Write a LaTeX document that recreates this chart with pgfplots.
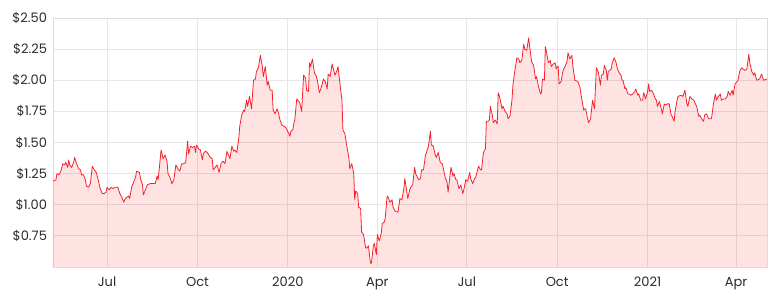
\documentclass[border=0pt]{standalone}
\usepackage{pgfplots}
\pgfplotsset{compat=1.18}
\usepackage{pgfplotstable}
\usepackage{fontspec}
\setmainfont{Poppins}
\definecolor{linered}{HTML}{F5222D}
\definecolor{gridgray}{HTML}{E6E6E6}
\definecolor{framegray}{HTML}{DCDCDC}
\definecolor{labelgray}{HTML}{2B2B2B}
\pgfplotstableread{
d v
126 1.19
129 1.20
130 1.25
132 1.24
134 1.27
136 1.33
138 1.32
139 1.34
141 1.30
142 1.36
143 1.32
145 1.30
147 1.34
148 1.38
150 1.33
152 1.29
154 1.28
155 1.24
157 1.24
159 1.20
160 1.15
162 1.14
164 1.17
166 1.31
168 1.28
170 1.26
172 1.20
174 1.13
176 1.09
178 1.09
180 1.10
181 1.14
183 1.12
185 1.14
187 1.13
189 1.14
192 1.14
194 1.09
196 1.06
198 1.02
199 1.04
201 1.06
203 1.07
204 1.05
206 1.14
208 1.18
210 1.22
211 1.27
214 1.26
215 1.21
217 1.16
218 1.08
220 1.12
222 1.16
225 1.17
230 1.17
232 1.23
233 1.20
236 1.44
238 1.37
240 1.40
242 1.35
243 1.25
245 1.22
247 1.17
249 1.20
251 1.32
253 1.29
255 1.27
257 1.33
259 1.33
261 1.34
263 1.51
264 1.41
266 1.47
268 1.46
270 1.47
271 1.42
272 1.48
274 1.45
276 1.44
278 1.36
279 1.41
281 1.43
283 1.42
286 1.38
288 1.37
289 1.28
291 1.30
293 1.32
295 1.26
297 1.33
299 1.35
301 1.33
303 1.43
306 1.37
308 1.47
310 1.43
311 1.44
313 1.42
315 1.53
316 1.63
318 1.72
320 1.76
321 1.75
323 1.84
324 1.79
326 1.87
328 1.77
330 2.00
332 2.01
333 2.07
335 2.10
337 2.20
339 2.11
340 2.03
342 2.11
344 1.96
345 1.99
347 1.92
349 1.92
350 1.76
352 1.73
354 1.77
355 1.75
357 1.68
359 1.64
361 1.63
363 1.62
366 1.57
367 1.55
368 1.59
370 1.60
371 1.65
372 1.68
374 1.85
376 1.83
377 1.82
379 1.75
381 2.04
383 2.02
384 1.92
386 1.91
387 2.14
388 2.11
390 2.17
392 2.06
394 2.03
395 2.00
397 1.90
398 1.92
400 1.97
401 2.01
403 1.99
405 1.93
406 2.05
408 2.03
410 2.13
411 2.10
413 2.04
415 2.08
416 2.11
418 1.97
420 1.84
421 1.60
423 1.57
425 1.47
427 1.38
428 1.29
430 1.33
432 1.25
433 1.04
434 1.11
436 1.09
437 0.98
439 0.97
440 0.78
442 0.76
444 0.66
445 0.65
447 0.67
449 0.53
450 0.53
452 0.67
453 0.69
455 0.60
456 0.76
458 0.71
460 0.77
461 0.85
463 0.86
464 0.89
466 1.07
467 1.06
469 1.02
471 1.04
472 0.98
474 0.95
477 0.94
479 1.05
481 1.04
483 1.13
484 1.21
487 1.05
489 1.12
490 1.14
492 1.16
494 1.30
495 1.25
498 1.20
500 1.21
501 1.28
503 1.28
505 1.40
506 1.42
508 1.47
510 1.59
511 1.48
513 1.47
515 1.40
516 1.38
518 1.42
520 1.34
522 1.33
523 1.30
525 1.22
527 1.18
528 1.10
530 1.24
531 1.30
533 1.23
534 1.25
536 1.20
537 1.20
539 1.13
541 1.16
543 1.09
544 1.12
546 1.20
548 1.19
550 1.26
551 1.21
553 1.17
555 1.21
556 1.22
559 1.31
561 1.28
562 1.28
564 1.42
566 1.45
567 1.67
569 1.67
570 1.68
571 1.79
573 1.72
574 1.66
576 1.68
578 1.65
579 1.90
580 1.88
583 1.77
584 1.79
586 1.75
588 1.73
589 1.69
591 1.71
593 1.84
594 1.96
596 2.08
598 2.18
600 2.17
601 2.14
603 2.16
605 2.29
606 2.25
608 2.24
610 2.34
611 2.27
613 2.15
615 2.12
617 2.01
618 2.03
620 1.95
622 1.89
623 1.90
624 2.01
626 2.00
627 2.27
629 2.19
630 2.14
632 2.16
633 2.11
635 2.13
637 2.14
638 2.09
639 2.11
640 2.11
641 1.97
643 1.99
645 2.08
647 2.11
649 2.15
650 2.22
652 2.17
654 2.20
655 2.11
657 2.00
660 1.99
662 1.95
664 1.85
666 1.76
667 1.77
668 1.77
670 1.69
671 1.66
673 1.69
675 1.84
677 1.77
678 1.95
679 2.10
681 2.06
683 1.96
684 2.04
686 2.05
687 2.12
689 2.08
690 2.00
691 2.07
694 2.09
695 2.14
697 2.18
699 2.14
700 2.10
702 2.06
704 2.04
705 2.00
706 2.00
708 1.93
709 1.94
711 1.89
712 1.89
714 1.88
716 1.89
718 1.91
719 1.93
721 1.88
722 1.89
724 1.84
726 1.84
727 1.90
729 1.85
731 1.91
732 1.97
733 1.91
735 1.92
737 1.89
739 1.85
740 1.84
741 1.79
743 1.83
745 1.77
746 1.73
748 1.81
749 1.80
751 1.81
753 1.81
755 1.72
756 1.71
758 1.67
759 1.75
761 1.84
762 1.87
765 1.88
767 1.87
769 1.92
771 1.81
772 1.79
774 1.87
776 1.85
778 1.84
779 1.82
781 1.79
783 1.71
784 1.72
786 1.69
788 1.67
789 1.72
791 1.73
793 1.69
796 1.69
798 1.81
800 1.89
801 1.84
803 1.87
805 1.89
806 1.84
808 1.85
810 1.85
812 1.87
813 1.91
815 1.88
817 1.92
818 1.88
820 1.97
822 1.99
823 2.00
825 2.08
827 2.10
828 2.09
830 2.08
832 2.09
834 2.21
835 2.14
837 2.07
839 2.04
840 2.06
842 2.00
845 2.01
847 2.05
849 2.00
852.5 2.01
}\pricedata
\begin{document}
\begin{tikzpicture}
\path[use as bounding box] (-39.75pt,-26.25pt) rectangle (539.25pt,200.25pt);
\begin{axis}[
  at={(0,0)}, anchor=south west,
  scale only axis,
  width=535.5pt, height=186.75pt,
  xmin=126, xmax=852.5,
  ymin=0.5, ymax=2.5,
  xtick={181,273,365,456,547,639,731,821},
  xticklabels={Jul,Oct,2020,Apr,Jul,Oct,2021,Apr},
  ytick={0.75,1,1.25,1.5,1.75,2,2.25,2.5},
  yticklabel={\$\pgfmathprintnumber[fixed,fixed zerofill,precision=2]{\tick}},
  /pgf/number format/assume math mode=true,
  major tick length=0pt,
  grid=major,
  major grid style={draw=gridgray, line width=0.6pt},
  axis line style={draw=framegray, line width=0.7pt},
  tick label style={font=\fontsize{9.75}{11}\selectfont, text=labelgray},
  yticklabel style={xshift=-1pt},
  xticklabel style={yshift=-4pt},
  clip=true,
]
\addplot[draw=none, fill=red, fill opacity=0.11] table[x=d, y=v] {\pricedata} \closedcycle;
\addplot[draw=linered, line width=0.6pt, mark=none, line join=round] table[x=d, y=v] {\pricedata};
\end{axis}
\end{tikzpicture}
\end{document}
